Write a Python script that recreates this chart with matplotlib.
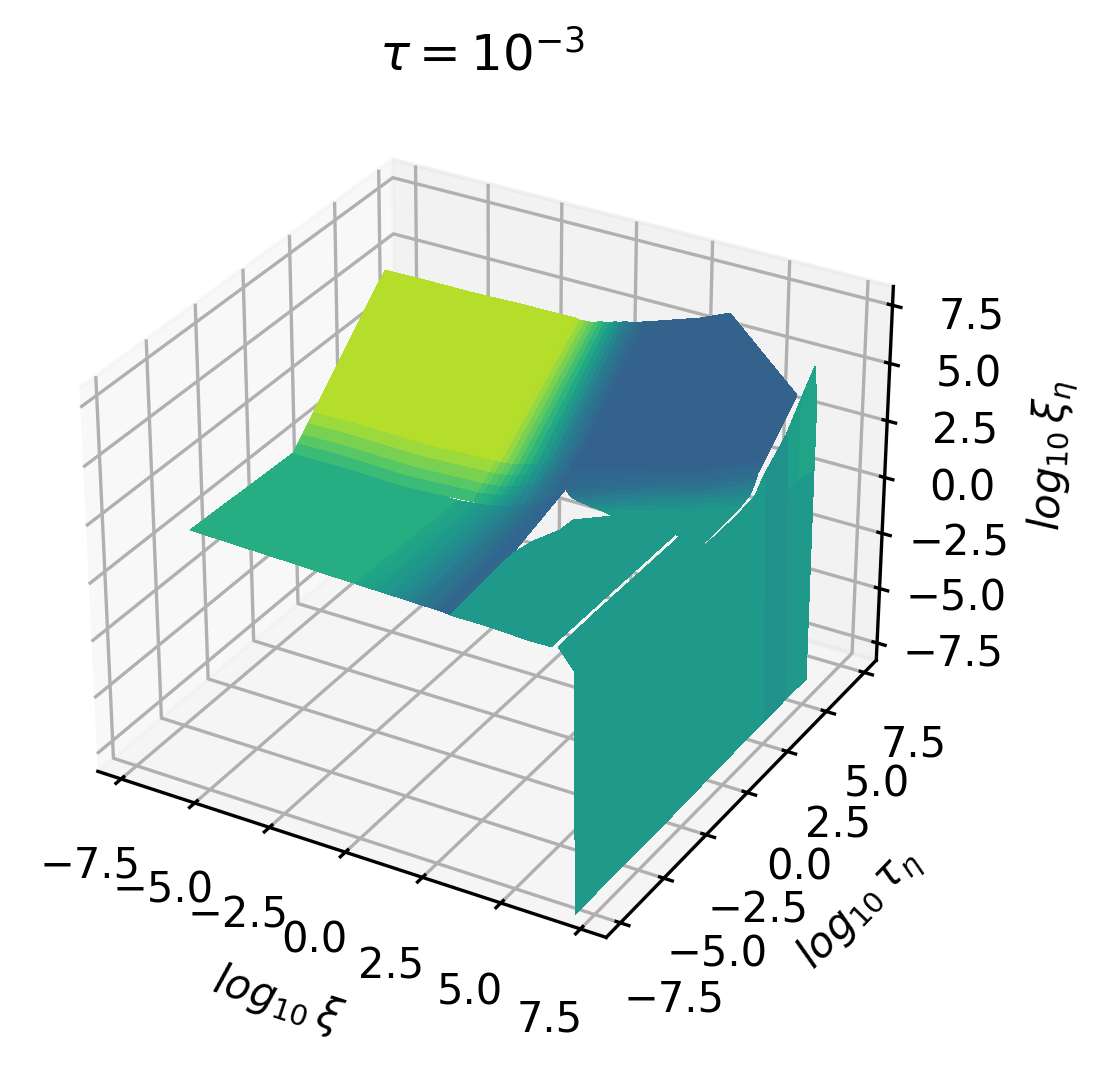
import numpy as np
import matplotlib
matplotlib.use('Agg')
import matplotlib.pyplot as plt
from matplotlib import cm

ticks = [-7.5, -5.0, -2.5, 0.0, 2.5, 5.0, 7.5]

#==================values============================================
# front part of the sheet (green into the blue strip)
low_x = [-5.4, -4.18, -3.1, -1.88, -0.47, 0.03, 0.26, 0.52, 0.75, 1.01,
         1.24, 1.51, 1.74, 2.0, 2.23, 2.49, 2.65, 2.82, 2.99, 3.15]
low_y = [[-7.45, -7.46, -7.47, -7.51, -7.57, -7.6, -7.62, -7.63, -7.64, -7.65,
          -7.67, -7.69, -7.71, -7.73, -7.75, -7.76, -7.77, -7.79, -7.82, -7.83],
         [-4.82, -4.81, -4.8, -4.83, -4.86, -4.88, -4.89, -4.9, -4.91, -4.92,
          -4.93, -4.96, -4.94, -4.93, -4.89, -4.87, -4.82, -4.79, -4.78, -4.43],
         [-2.1, -2.08, -2.05, -2.05, -2.06, -2.08, -2.08, -2.09, -2.09, -2.1,
          -2.1, -2.13, -2.08, -2.03, -1.93, -1.89, -1.78, -1.68, -1.65, -1.54]]
low_z = [[2.88, 2.85, 2.82, 2.82, 2.82, 2.84, 2.84, 2.84, 2.85, 2.85,
          2.86, 2.88, 2.89, 2.89, 2.9, 2.91, 2.91, 2.93, 2.94, 2.94],
         [2.78, 2.71, 2.67, 2.64, 2.69, 2.74, 2.77, 2.79, 2.83, 2.87,
          2.91, 2.97, 3.02, 3.08, 3.13, 3.21, 3.26, 3.32, 3.39, 3.19],
         [2.68, 2.66, 2.6, 2.55, 2.65, 2.66, 2.69, 2.74, 2.81, 2.89,
          2.96, 3.06, 3.16, 3.27, 3.38, 3.53, 3.62, 3.73, 3.86, 3.93]]
low_c = [0.62, 0.62, 0.62, 0.62, 0.62, 0.59, 0.575, 0.56, 0.54, 0.52,
         0.495, 0.47, 0.44, 0.41, 0.385, 0.36, 0.345, 0.33, 0.33, 0.33]

# rising part of the sheet (yellow into blue)
up_x = [-5.4, -4, -2.9, -1.6, -0.2, 0.6, 0.85, 1.1, 1.3, 1.5,
        1.7, 1.9, 2.1, 2.3, 2.5, 2.7, 2.9, 3.1, 3.25, 3.4]
up_y = [[-2.1, -2.36, -2.37, -2.51, -2.51, -2.22, -2.32, -2.42, -2.43, -2.44,
         -2.46, -2.42, -2.38, -2.28, -2.24, -2.15, -2.11, -2.01, -2.0, -1.99],
        [-1.85, -2.1, -2.08, -2.18, -2.19, -1.94, -2.04, -2.14, -2.16, -2.17,
         -2.19, -2.15, -2.12, -2.03, -2.0, -1.91, -1.88, -1.79, -1.78, -1.76],
        [-1.59, -1.83, -1.78, -1.85, -1.87, -1.66, -1.76, -1.86, -1.88, -1.9,
         -1.92, -1.89, -1.86, -1.78, -1.75, -1.67, -1.64, -1.57, -1.55, -1.54],
        [-1.29, -1.52, -1.43, -1.45, -1.48, -1.31, -1.42, -1.53, -1.55, -1.57,
         -1.59, -1.57, -1.55, -1.48, -1.46, -1.39, -1.37, -1.3, -1.29, -1.27],
        [-0.98, -1.2, -1.07, -1.05, -1.08, -0.97, -1.08, -1.19, -1.22, -1.24,
         -1.27, -1.25, -1.23, -1.17, -1.16, -1.1, -1.09, -1.03, -1.02, -1.0],
        [3.04, 2.95, 3.63, 4.26, 4.11, 3.56, 3.4, 3.24, 3.17, 3.1,
         3.03, 2.95, 2.88, 2.81, 2.73, 2.66, 2.58, 2.5, 2.52, 2.53]]
up_z = [[2.68, 2.94, 2.93, 2.99, 3.09, 2.91, 3.02, 3.14, 3.18, 3.27,
         3.35, 3.4, 3.49, 3.55, 3.68, 3.82, 3.96, 4.1, 4.23, 4.32],
        [2.92, 3.17, 3.13, 3.16, 3.27, 3.11, 3.23, 3.35, 3.39, 3.48,
         3.56, 3.61, 3.71, 3.77, 3.9, 4.04, 4.17, 4.31, 4.44, 4.53],
        [3.15, 3.39, 3.33, 3.34, 3.44, 3.32, 3.44, 3.55, 3.6, 3.69,
         3.77, 3.83, 3.92, 3.99, 4.12, 4.26, 4.39, 4.53, 4.65, 4.74],
        [3.44, 3.67, 3.57, 3.55, 3.66, 3.57, 3.68, 3.8, 3.85, 3.94,
         4.03, 4.09, 4.19, 4.25, 4.38, 4.52, 4.65, 4.79, 4.91, 4.99],
        [3.72, 3.94, 3.81, 3.76, 3.87, 3.82, 3.93, 4.06, 4.1, 4.19,
         4.29, 4.35, 4.45, 4.52, 4.65, 4.78, 4.91, 5.05, 5.16, 5.24],
        [7.44, 7.54, 7.0, 6.56, 6.69, 7.14, 7.23, 7.37, 7.44, 7.55,
         7.67, 7.78, 7.89, 8.01, 8.12, 8.24, 8.35, 8.47, 8.51, 8.56]]
up_c = [[0.68, 0.68, 0.68, 0.68, 0.68, 0.64, 0.62, 0.60, 0.57, 0.54,
         0.51, 0.48, 0.45, 0.42, 0.39, 0.37, 0.35, 0.33, 0.32, 0.31],
        [0.74, 0.74, 0.74, 0.74, 0.74, 0.70, 0.67, 0.65, 0.61, 0.58,
         0.54, 0.51, 0.47, 0.44, 0.41, 0.38, 0.35, 0.33, 0.32, 0.31],
        [0.80, 0.80, 0.80, 0.80, 0.80, 0.76, 0.73, 0.70, 0.66, 0.62,
         0.58, 0.54, 0.50, 0.46, 0.42, 0.39, 0.36, 0.34, 0.32, 0.31],
        [0.85, 0.85, 0.85, 0.85, 0.85, 0.82, 0.78, 0.75, 0.70, 0.66,
         0.61, 0.57, 0.52, 0.48, 0.44, 0.40, 0.37, 0.34, 0.32, 0.31],
        [0.89, 0.89, 0.89, 0.89, 0.89, 0.88, 0.84, 0.80, 0.75, 0.70,
         0.65, 0.60, 0.55, 0.50, 0.45, 0.41, 0.38, 0.35, 0.33, 0.31],
        [0.89, 0.89, 0.89, 0.89, 0.89, 0.88, 0.84, 0.80, 0.75, 0.70,
         0.65, 0.60, 0.55, 0.50, 0.45, 0.41, 0.38, 0.35, 0.33, 0.31]]

# teal part in front of the wall
teal_x = [3.15, 4.14, 5.1, 5.8, 6.3, 6.5]
teal_y = [[-7.83, -7.93, -7.99, -8.15, -8.23, -8.26],
          [-4.43, -5.08, -5.31, -5.86, -4.55, -1.21]]
teal_z = [[2.91, 3.01, 3.02, 3.13, 3.22, 3.24],
          [3.19, 4.51, 5.49, 6.54, 6.03, 3.17]]
teal_c = [0.54, 0.54, 0.54, 0.54, 0.54, 0.54]

# blue part at the back
blue_x = [3.4, 4.2, 5.0, 6.5]
blue_y = [[0.82, 1.85, 3.24, 2.18], [0.04, 1.83, 3.18, 2.72], [-0.43, 1.82, 3.17, 2.96],
          [-0.83, 1.82, 3.17, 3.21], [-1.24, 1.81, 3.16, 3.35], [-1.58, 1.81, 3.15, 3.5],
          [-1.76, 1.8, 3.14, 3.58], [-1.93, 1.8, 3.14, 3.67], [-1.76, 1.79, 3.16, 3.88],
          [-1.48, 1.78, 3.18, 4.09], [2.53, 4.33, 4.61, 6.01]]
blue_z = [[1.36, 0.5, -0.9, 1.69], [2.13, 1.3, 0.76, 1.76], [2.57, 1.5, 0.96, 1.82],
          [2.97, 1.7, 1.16, 1.88], [3.36, 1.9, 1.36, 2.04], [3.72, 2.1, 1.56, 2.21],
          [4.0, 2.3, 1.76, 2.37], [4.28, 2.49, 1.96, 2.53], [4.56, 2.76, 2.19, 2.67],
          [4.84, 3.02, 2.41, 2.82], [8.56, 7.92, 8.24, 4.41]]
blue_c = [0.54, 0.50, 0.475, 0.45, 0.42, 0.39, 0.365, 0.34, 0.325, 0.31, 0.31]

# wall at large xi
wall_x = [7.5, 7.5, 7.5, 7.5, 7.5, 7.5, 7.5, 7.5, 7.5, 7.5]
wall_y = [[-8.61, -7.21, -2.58, -1.03, 0.8, 1.98, 2.48, 3.93, 4.64, 5.22],
          [-8.68, -7.31, -2.7, -1.14, 0.66, 1.82, 2.29, 3.53, 4.21, 5.23],
          [-8.75, -7.3, -2.82, -1.26, 0.52, 1.66, 2.12, 3.48, 4.18, 5.25],
          [-9.67, -7.58, -2.95, -1.39, 0.39, 1.52, 1.98, 3.34, 4.51, 5.04]]
wall_z = [[-7.44, -7.4, -7.39, -7.35, -7.32, -7.33, -7.33, -7.29, -7.3, -7.35],
          [-2.44, -1.76, -1.69, -2.37, -2.33, -2.26, -1.7, 2.26, 2.25, 2.02],
          [2.96, 4.17, 4.34, 2.89, 2.89, 3.03, 3.53, 4.44, 5.28, 5.03],
          [4.64, 4.65, 4.59, 3.2, 3.2, 3.33, 3.83, 4.74, 6.05, 6.61]]
wall_c = [[0.54, 0.54, 0.54, 0.54, 0.54, 0.54, 0.50, 0.53, 0.54, 0.54],
          [0.54, 0.54, 0.54, 0.54, 0.54, 0.54, 0.50, 0.56, 0.58, 0.58],
          [0.54, 0.54, 0.54, 0.54, 0.54, 0.54, 0.50, 0.56, 0.58, 0.58],
          [0.54, 0.54, 0.54, 0.54, 0.54, 0.54, 0.50, 0.56, 0.58, 0.58]]


#====================================================================
def sheet(ax, x, y, z, c, order):
    y = np.array(y)
    X = np.tile(x, (y.shape[0], 1))
    c = np.array(c)
    if c.ndim == 1 and c.size == y.shape[1]:
        c = np.tile(c, (y.shape[0], 1))
    elif c.ndim == 1:
        c = np.tile(c.reshape(-1, 1), (1, y.shape[1]))
    ax.plot_surface(X, y, np.array(z), facecolors=cm.viridis(c), shade=False,
                    rstride=1, cstride=1, linewidth=0, antialiased=False, zorder=order)


fig = plt.figure(figsize=(1112/300, 1077/300), dpi=300)
S = 905.0
ax = fig.add_axes([(482-S/2)/1112, (1077-542-S/2)/1077, S/1112, S/1077],
                  projection='3d', computed_zorder=False)

sheet(ax, low_x, low_y, low_z, low_c, 2)
sheet(ax, teal_x, teal_y, teal_z, teal_c, 3)
sheet(ax, up_x, up_y, up_z, up_c, 4)
sheet(ax, blue_x, blue_y, blue_z, blue_c, 5)
sheet(ax, wall_x, wall_y, wall_z, wall_c, 6)

ax.set_xlim(-8.3, 8.3)
ax.set_ylim(-8.3, 8.3)
ax.set_zlim(-8.3, 8.3)
ax.set_xticks(ticks)
ax.set_yticks(ticks)
ax.set_zticks(ticks)
ax.set_xlabel(r'$log_{10}\,\xi$')
ax.set_ylabel(r'$log_{10}\,\tau_\eta$')
ax.set_zlabel(r'$log_{10}\,\xi_\eta$')
ax.set_title(r'$\tau = 10^{-3}$', pad=4.5)

fig.savefig('out.png', dpi=300)
